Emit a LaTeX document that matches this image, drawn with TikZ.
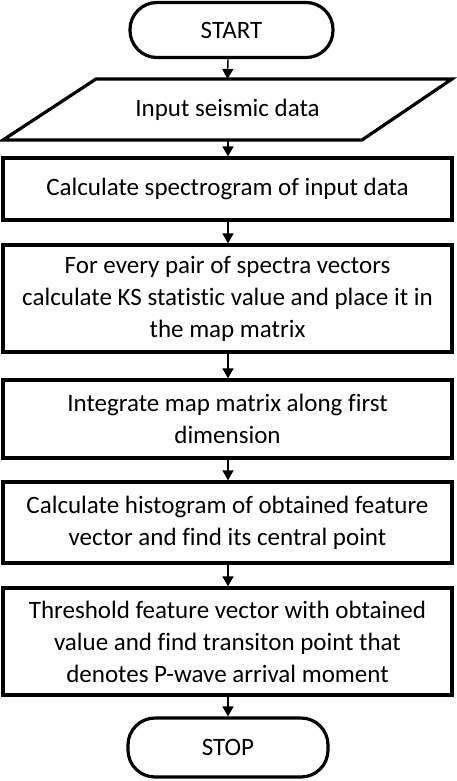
\documentclass[tikz,border=0pt]{standalone}
\usepackage{fontspec}
\setmainfont{Carlito}[Ligatures={NoCommon}]
\usetikzlibrary{arrows.meta}
\begin{document}
\begin{tikzpicture}[x=1pt,y=-1pt,
  box/.style={draw, line width=3.2pt, align=center, inner sep=0pt,
    font=\fontsize{25}{32}\selectfont},
  term/.style={box, rounded corners=27pt},
  flow/.style={line width=1.4pt, -{Triangle[width=11pt,length=10pt]}}]
\useasboundingbox[fill=white] (0,0) rectangle (456,781);

\node[term, minimum width=203pt, minimum height=55pt] (start) at (231.5,30) {START};

% input parallelogram
\draw[line width=3.2pt, line join=miter] (96,79) -- (452,79) -- (362,140) -- (3,140) -- cycle;
\node[box, draw=none, minimum width=200pt, minimum height=61pt] (input) at (227.5,109.5) {Input seismic data};

\node[box, minimum width=449pt, minimum height=62pt] (spec) at (227.5,189)
  {Calculate spectrogram of input data};
\node[box, minimum width=449pt, minimum height=107pt] (ks) at (227.5,298.5)
  {For every pair of spectra vectors\\calculate KS statistic value and place it in\\the map matrix};
\node[box, minimum width=449pt, minimum height=78pt] (integ) at (227.5,419)
  {Integrate map matrix along first\\dimension};
\node[box, minimum width=449pt, minimum height=81pt] (hist) at (227.5,522.5)
  {Calculate histogram of obtained feature\\vector and find its central point};
\node[box, minimum width=449pt, minimum height=107pt] (thr) at (227.5,641.5)
  {Threshold feature vector with obtained\\value and find transiton point that\\denotes P-wave arrival moment};

\node[term, minimum width=200pt, minimum height=59pt] (stop) at (228,747.5) {STOP};

\draw[flow] (start.south -| 228,0) -- (input.south |- 228,79);
\draw[flow] (228,140) -- (spec.north -| 228,0);
\draw[flow] (spec.south -| 228,0) -- (ks.north -| 228,0);
\draw[flow] (ks.south -| 228,0) -- (integ.north -| 228,0);
\draw[flow] (integ.south -| 228,0) -- (hist.north -| 228,0);
\draw[flow] (hist.south -| 228,0) -- (thr.north -| 228,0);
\draw[flow] (thr.south -| 228,0) -- (stop.north -| 228,0);
\end{tikzpicture}
\end{document}
